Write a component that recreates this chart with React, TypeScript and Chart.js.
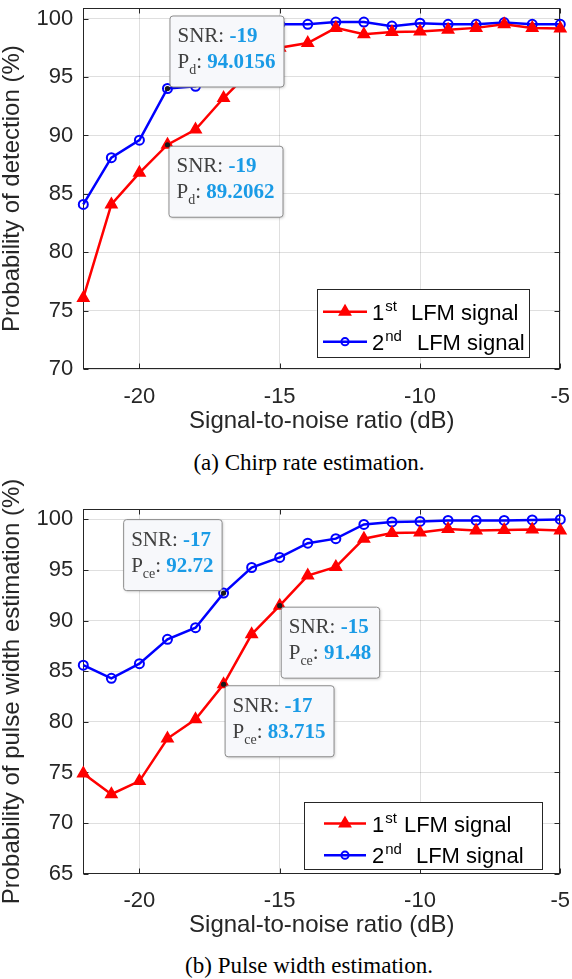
import React, { useEffect, useRef } from "react";
import { Chart, registerables } from "chart.js";

Chart.register(...registerables);

// ---------------- data ----------------
const snrValues = [-22, -21, -20, -19, -18, -17, -16, -15, -14, -13, -12, -11, -10, -9, -8, -7, -6, -5];
const chirpFirst = [76.1, 84.1, 86.8, 89.2062, 90.5, 93.2, 95.6, 97.5, 97.9, 99.2, 98.65, 98.85, 98.9, 99.05, 99.2, 99.5, 99.2, 99.15];
const chirpSecond = [84.1, 88.1, 89.6, 94.0156, 94.2, 97.8, 99.3, 99.5, 99.5, 99.7, 99.7, 99.35, 99.6, 99.5, 99.5, 99.65, 99.5, 99.5];
const pulseFirst = [74.9, 72.85, 74.15, 78.35, 80.25, 83.715, 88.65, 91.48, 94.45, 95.3, 98.1, 98.65, 98.7, 99.05, 98.9, 98.95, 99.0, 98.9];
const pulseSecond = [85.6, 84.3, 85.75, 88.15, 89.3, 92.72, 95.25, 96.25, 97.65, 98.1, 99.5, 99.75, 99.8, 99.9, 99.9, 99.9, 99.95, 100.0];
const xTickValues = [-20, -15, -10, -5];
const chirpYTicks = [70, 75, 80, 85, 90, 95, 100];
const pulseYTicks = [65, 70, 75, 80, 85, 90, 95, 100];
const legendOrdinals = ["1", "2"];
const legendSuperscripts = ["st", "nd"];
const legendText = "LFM signal";
const xAxisTitle = "Signal-to-noise ratio (dB)";
const chirpYTitle = "Probability of detection (%)";
const pulseYTitle = "Probability of pulse width estimation (%)";
const captionA = "(a) Chirp rate estimation.";
const captionB = "(b) Pulse width estimation.";
const tipLabel = "SNR";
// data tips: series (0 = 1st, 1 = 2nd), point index, subscript of P, placement
const chirpTips = [
  { series: 1, index: 3, sub: "d", place: "ur" },
  { series: 0, index: 3, sub: "d", place: "dr" },
];
const pulseTips = [
  { series: 1, index: 5, sub: "ce", place: "ul" },
  { series: 0, index: 7, sub: "ce", place: "dr" },
  { series: 0, index: 5, sub: "ce", place: "dr" },
];

// ---------------- styles ----------------
const SANS = '"Liberation Sans", Arial, Helvetica, sans-serif';
const SERIF = '"Liberation Serif", "Times New Roman", serif';
const AXIS_COLOR = "#262626";
const GRID_COLOR = "rgba(38,38,38,0.15)";
const SERIES_COLORS = ["#ff0000", "#0000ff"];
const TIP_BLUE = "#1a9be6";

function drawMarker(ctx: CanvasRenderingContext2D, kind: number, x: number, y: number, scale: number) {
  ctx.save();
  if (kind === 0) {
    const r = 6.5 * scale;
    ctx.beginPath();
    for (let k = 0; k < 3; k++) {
      const ang = (k * 2 * Math.PI) / 3;
      const px = x + Math.sin(ang) * r;
      const py = y - Math.cos(ang) * r;
      if (k === 0) ctx.moveTo(px, py);
      else ctx.lineTo(px, py);
    }
    ctx.closePath();
    ctx.fillStyle = SERIES_COLORS[0];
    ctx.strokeStyle = SERIES_COLORS[0];
    ctx.lineWidth = 1.5;
    ctx.fill();
    ctx.stroke();
  } else {
    ctx.beginPath();
    ctx.arc(x, y, 4.5 * scale, 0, Math.PI * 2);
    ctx.strokeStyle = SERIES_COLORS[1];
    ctx.lineWidth = 2;
    ctx.stroke();
  }
  ctx.restore();
}

function roundRect(ctx: CanvasRenderingContext2D, x: number, y: number, w: number, h: number, r: number) {
  ctx.beginPath();
  ctx.moveTo(x + r, y);
  ctx.lineTo(x + w - r, y);
  ctx.arcTo(x + w, y, x + w, y + r, r);
  ctx.lineTo(x + w, y + h - r);
  ctx.arcTo(x + w, y + h, x + w - r, y + h, r);
  ctx.lineTo(x + r, y + h);
  ctx.arcTo(x, y + h, x, y + h - r, r);
  ctx.lineTo(x, y + r);
  ctx.arcTo(x, y, x + r, y, r);
  ctx.closePath();
}

type Spec = {
  first: number[];
  second: number[];
  yTicks: number[];
  yMin: number;
  yMax: number;
  yTitle: string;
  tips: { series: number; index: number; sub: string; place: string }[];
  padTop: number;
  padBottom: number;
  legend: { right: number; bottom: number; width: number; height: number; rows: number[]; lineX0: number; lineX1: number; textX: number; gaps: number[] };
};

function buildChart(canvas: HTMLCanvasElement, spec: Spec) {
  const series = [spec.first, spec.second];
  const datasets = series.map((vals, i) => ({
    label: legendOrdinals[i] + legendSuperscripts[i] + " " + legendText,
    data: snrValues.map((x, j) => ({ x, y: vals[j] })),
    borderColor: SERIES_COLORS[i],
    backgroundColor: SERIES_COLORS[i],
    borderWidth: 2.5,
    pointStyle: i === 0 ? "triangle" : "circle",
    pointRadius: i === 0 ? 6.5 : 4.5,
    pointBorderWidth: i === 0 ? 1.5 : 2,
    pointBackgroundColor: i === 0 ? SERIES_COLORS[0] : "rgba(0,0,0,0)",
    pointBorderColor: SERIES_COLORS[i],
    tension: 0,
    clip: false as any,
  }));

  const framePlugin = {
    id: "frame",
    beforeDatasetsDraw(chart: any) {
      const { ctx, chartArea: a, scales } = chart;
      ctx.save();
      ctx.strokeStyle = AXIS_COLOR;
      ctx.lineWidth = 1;
      const l = Math.round(a.left) + 0.5;
      const r = Math.round(a.right) - 0.5;
      const t = Math.round(a.top) + 0.5;
      const b = Math.round(a.bottom) - 0.5;
      ctx.strokeRect(l, t, r - l, b - t);
      ctx.beginPath();
      for (const v of xTickValues) {
        const px = Math.round(scales.x.getPixelForValue(v)) + 0.5;
        ctx.moveTo(px, b);
        ctx.lineTo(px, b - 5);
        ctx.moveTo(px, t);
        ctx.lineTo(px, t + 5);
      }
      for (const v of spec.yTicks) {
        const py = Math.round(scales.y.getPixelForValue(v)) + 0.5;
        ctx.moveTo(l, py);
        ctx.lineTo(l + 5, py);
        ctx.moveTo(r, py);
        ctx.lineTo(r - 5, py);
      }
      ctx.stroke();
      ctx.restore();
    },
    afterDatasetsDraw(chart: any) {
      const { ctx, chartArea: a, scales } = chart;
      // legend
      const lg = spec.legend;
      const right = a.right - lg.right;
      const bottom = a.bottom - lg.bottom;
      const left = right - lg.width;
      const top = bottom - lg.height;
      ctx.save();
      ctx.fillStyle = "#ffffff";
      ctx.fillRect(left, top, lg.width, lg.height);
      ctx.strokeStyle = AXIS_COLOR;
      ctx.lineWidth = 1;
      ctx.strokeRect(Math.round(left) + 0.5, Math.round(top) + 0.5, Math.round(lg.width), Math.round(lg.height));
      for (let i = 0; i < 2; i++) {
        const cy = top + lg.rows[i];
        ctx.beginPath();
        ctx.strokeStyle = SERIES_COLORS[i];
        ctx.lineWidth = 2.5;
        ctx.moveTo(left + lg.lineX0, cy);
        ctx.lineTo(left + lg.lineX1, cy);
        ctx.stroke();
        drawMarker(ctx, i, left + (lg.lineX0 + lg.lineX1) / 2, cy, i === 0 ? 1 : 0.8);
        const base = cy + 8;
        let tx = left + lg.textX;
        ctx.fillStyle = "#000000";
        ctx.textBaseline = "alphabetic";
        ctx.textAlign = "left";
        ctx.font = "22px " + SANS;
        ctx.fillText(legendOrdinals[i], tx, base);
        tx += ctx.measureText(legendOrdinals[i]).width + 1;
        ctx.font = "15px " + SANS;
        ctx.fillText(legendSuperscripts[i], tx, base - 9);
        tx += ctx.measureText(legendSuperscripts[i]).width + lg.gaps[i];
        ctx.font = "22px " + SANS;
        ctx.fillText(legendText, tx, base);
      }
      ctx.restore();

      // data tips
      for (const tip of spec.tips) {
        const vals = series[tip.series];
        const sx = snrValues[tip.index];
        const sy = vals[tip.index];
        const px = scales.x.getPixelForValue(sx);
        const py = scales.y.getPixelForValue(sy);
        const fN = "21px " + SERIF;
        const fB = "bold 21px " + SERIF;
        const fS = "14px " + SERIF;
        ctx.save();
        ctx.font = fN;
        const wA = ctx.measureText(tipLabel + ": ").width;
        const wP = ctx.measureText("P").width;
        const wC = ctx.measureText(": ").width;
        ctx.font = fB;
        const wSnr = ctx.measureText(String(sx)).width;
        const wVal = ctx.measureText(String(sy)).width;
        ctx.font = fS;
        const wSub = ctx.measureText(tip.sub).width;
        const contentW = Math.max(wA + wSnr, wP + wSub + wC + wVal);
        const bw = contentW + 16;
        const bh = 71;
        let bx = px + 1;
        let by = py + 1;
        if (tip.place === "ur") {
          bx = px + 2;
          by = py - 2 - bh;
        } else if (tip.place === "ul") {
          bx = px - 2 - bw;
          by = py - 3 - bh;
        }
        ctx.shadowColor = "rgba(0,0,0,0.22)";
        ctx.shadowBlur = 3;
        ctx.shadowOffsetX = 1;
        ctx.shadowOffsetY = 1;
        roundRect(ctx, bx + 0.5, by + 0.5, bw, bh, 3);
        ctx.fillStyle = "#f7f8fb";
        ctx.fill();
        ctx.shadowColor = "rgba(0,0,0,0)";
        ctx.strokeStyle = "#8c8c8c";
        ctx.lineWidth = 1;
        ctx.stroke();
        ctx.textBaseline = "alphabetic";
        ctx.textAlign = "left";
        const b1 = by + 26.5;
        const b2 = by + 52.5;
        let tx = bx + 8;
        ctx.font = fN;
        ctx.fillStyle = "#404040";
        ctx.fillText(tipLabel + ": ", tx, b1);
        ctx.font = fB;
        ctx.fillStyle = TIP_BLUE;
        ctx.fillText(String(sx), tx + wA, b1);
        ctx.font = fN;
        ctx.fillStyle = "#404040";
        ctx.fillText("P", tx, b2);
        tx += wP;
        ctx.font = fS;
        ctx.fillText(tip.sub, tx, b2 + 6);
        tx += wSub;
        ctx.font = fN;
        ctx.fillText(": ", tx, b2);
        tx += wC;
        ctx.font = fB;
        ctx.fillStyle = TIP_BLUE;
        ctx.fillText(String(sy), tx, b2);
        // datatip marker
        ctx.beginPath();
        ctx.arc(px, py, 2.6, 0, Math.PI * 2);
        ctx.fillStyle = "#1a1a1a";
        ctx.fill();
        ctx.restore();
      }
    },
  };

  return new Chart(canvas, {
    type: "line",
    data: { datasets: datasets as any },
    plugins: [framePlugin],
    options: {
      responsive: true,
      maintainAspectRatio: false,
      animation: false,
      events: [],
      layout: { padding: { top: spec.padTop, bottom: spec.padBottom, left: 0, right: 11.7 } },
      plugins: { legend: { display: false }, tooltip: { enabled: false } },
      scales: {
        x: {
          type: "linear",
          min: -22,
          max: -5,
          afterBuildTicks: (s: any) => {
            s.ticks = xTickValues.map((v) => ({ value: v }));
          },
          afterFit: (s: any) => {
            s.height = 70;
            s.paddingLeft = 0;
            s.paddingRight = 0;
          },
          grid: { color: GRID_COLOR, lineWidth: 1, drawTicks: false },
          border: { display: false },
          ticks: {
            font: { family: SANS, size: 22 },
            color: AXIS_COLOR,
            padding: 14,
            maxRotation: 0,
            autoSkip: false,
            callback: (v: any) => String(v),
          },
          title: {
            display: true,
            text: xAxisTitle,
            font: { family: SANS, size: 24 },
            color: AXIS_COLOR,
            padding: { top: 0, bottom: 4 },
          },
        },
        y: {
          type: "linear",
          min: spec.yMin,
          max: spec.yMax,
          afterBuildTicks: (s: any) => {
            s.ticks = spec.yTicks.map((v) => ({ value: v }));
          },
          afterFit: (s: any) => {
            s.width = 83.3;
            s.paddingTop = 0;
            s.paddingBottom = 0;
          },
          grid: { color: GRID_COLOR, lineWidth: 1, drawTicks: false },
          border: { display: false },
          ticks: {
            font: { family: SANS, size: 22 },
            color: AXIS_COLOR,
            padding: 10,
            autoSkip: false,
            callback: (v: any) => String(v),
          },
          title: {
            display: true,
            text: spec.yTitle,
            font: { family: SANS, size: 24, lineHeight: 1 },
            color: AXIS_COLOR,
            padding: { top: 0, bottom: 0 },
          },
        },
      },
    } as any,
  });
}

const specA: Spec = {
  first: chirpFirst,
  second: chirpSecond,
  yTicks: chirpYTicks,
  yMin: 70,
  yMax: 100.9,
  yTitle: chirpYTitle,
  tips: chirpTips,
  padTop: 4,
  padBottom: 5.7,
  legend: { right: 31.3, bottom: 12, width: 212.3, height: 68, rows: [22.4, 52.4], lineX0: 6.3, lineX1: 50.3, textX: 55.3, gaps: [14, 15] },
};

const specB: Spec = {
  first: pulseFirst,
  second: pulseSecond,
  yTicks: pulseYTicks,
  yMin: 65,
  yMax: 101,
  yTitle: pulseYTitle,
  tips: pulseTips,
  padTop: 39.3,
  padBottom: 5.3,
  legend: { right: 18, bottom: 4.5, width: 237.8, height: 67.3, rows: [21.6, 53.3], lineX0: 19.5, lineX1: 61.5, textX: 67.5, gaps: [7, 14] },
};

function captionStyle(top: number): React.CSSProperties {
  return {
    position: "absolute",
    left: 309,
    top,
    transform: "translateX(-50%)",
    fontFamily: SERIF,
    fontSize: 23,
    lineHeight: "26px",
    whiteSpace: "nowrap",
    color: "#000",
  };
}

export default function App() {
  const aRef = useRef<HTMLCanvasElement>(null);
  const bRef = useRef<HTMLCanvasElement>(null);
  useEffect(() => {
    const ca = buildChart(aRef.current!, specA);
    const cb = buildChart(bRef.current!, specB);
    return () => {
      ca.destroy();
      cb.destroy();
    };
  }, []);
  return (
    <div style={{ position: "absolute", left: 0, top: 0, width: 572, height: 979, background: "#fff", overflow: "hidden" }}>
      <div style={{ position: "absolute", left: 0, top: 0, width: 572, height: 445 }}>
        <canvas ref={aRef} />
      </div>
      <div style={captionStyle(450)}>{captionA}</div>
      <div style={{ position: "absolute", left: 0, top: 470, width: 572, height: 479 }}>
        <canvas ref={bRef} />
      </div>
      <div style={captionStyle(953)}>{captionB}</div>
    </div>
  );
}
